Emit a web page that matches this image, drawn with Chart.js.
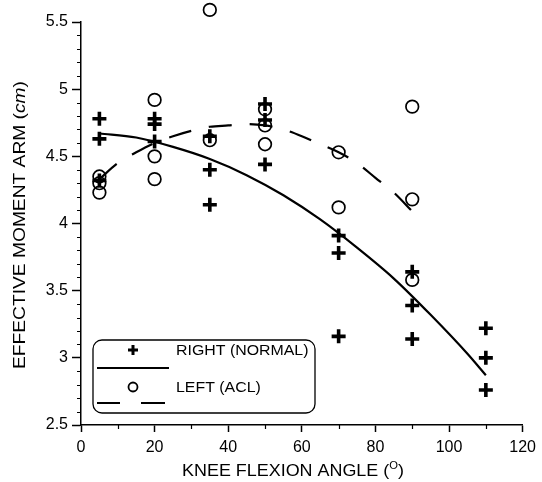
<!DOCTYPE html>
<html>
<head>
<meta charset="utf-8">
<script src="https://cdn.jsdelivr.net/npm/chart.js@4.4.1/dist/chart.umd.min.js"></script>
<style>
  html, body { margin: 0; padding: 0; background: #fff; }
  #wrap { width: 542px; height: 482px; position: relative; }
</style>
</head>
<body>
<div id="wrap"><canvas id="chart"></canvas></div>
<script>
// Measured effective moment arm (cm) by knee flexion angle (deg)
const rightAngles = [5, 5, 5, 20, 20, 20, 35, 35, 35, 50, 50, 50, 70, 70, 70, 90, 90, 90, 110, 110, 110];
const rightValues = [4.78, 4.63, 4.32, 4.78, 4.74, 4.61, 4.65, 4.40, 4.14, 4.89, 4.77, 4.44, 3.91, 3.78, 3.16, 3.64, 3.39, 3.14, 3.22, 3.00, 2.76];

const leftAngles = [5, 5, 5, 20, 20, 20, 35, 35, 50, 50, 50, 70, 70, 90, 90, 90];
const leftValues = [4.35, 4.30, 4.23, 4.92, 4.50, 4.33, 5.59, 4.62, 4.85, 4.73, 4.59, 4.53, 4.12, 4.87, 4.18, 3.58];

// fitted curves
const rightFitAngles = [5, 15, 25, 35, 45, 55, 65, 75, 85, 95, 105, 110];
const rightFitValues = [4.67, 4.64, 4.57, 4.48, 4.36, 4.21, 4.03, 3.82, 3.59, 3.32, 3.03, 2.87];

const leftFitAngles = [5, 10, 15, 20, 25, 30, 35, 40, 45, 50, 55, 60, 65, 70, 75, 80, 85, 90];
const leftFitValues = [4.33, 4.45, 4.53, 4.60, 4.65, 4.69, 4.72, 4.73, 4.74, 4.73, 4.70, 4.65, 4.59, 4.53, 4.45, 4.34, 4.23, 4.09];

const xTicks = [0, 20, 40, 60, 80, 100, 120];
const yTicks = [2.5, 3, 3.5, 4, 4.5, 5, 5.5];

const legendLabels = ['RIGHT (NORMAL)', 'LEFT (ACL)'];
const xTitle = 'KNEE FLEXION ANGLE (';
const xTitleSup = 'O';
const yTitle = 'EFFECTIVE MOMENT ARM (';
const yTitleUnit = 'cm';

const FONT = "'Liberation Sans', Arial, sans-serif";

function toPoints(xs, ys) {
    return xs.map((v, i) => ({ x: v, y: ys[i] }));
}

// draws text stretched horizontally, starting at x
function stretchText(ctx, text, x, y, sx) {
    ctx.save();
    ctx.translate(x, y);
    ctx.scale(sx, 1);
    ctx.fillText(text, 0, 0);
    ctx.restore();
    return ctx.measureText(text).width * sx;
}

const decorPlugin = {
    id: 'decor',
    afterDatasetsDraw(chart) {
        // points above the 5.5 limit (the 5.59 circle) are skipped by Chart.js, draw them anyway
        const area = chart.chartArea;
        const bigArea = { left: -1e4, top: -1e4, right: 1e4, bottom: 1e4 };
        chart.getSortedVisibleDatasetMetas().forEach(meta => {
            const ds = chart.data.datasets[meta.index];
            if (ds.showLine) return;
            meta.data.forEach(el => {
                if (el.y < area.top - 1 || el.y > area.bottom + 1) {
                    el.draw(chart.ctx, bigArea);
                }
            });
        });
    },
    afterDraw(chart) {
        const ctx = chart.ctx;
        const xs = chart.scales.x;
        const ys = chart.scales.y;
        const left = chart.chartArea.left;
        const bottom = chart.chartArea.bottom;
        ctx.save();
        ctx.strokeStyle = '#000';
        ctx.fillStyle = '#000';

        // minor ticks
        ctx.lineWidth = 1.2;
        ctx.beginPath();
        for (let k = 26; k < 55; k++) {
            if (k % 5 === 0) continue;
            const py = Math.round(ys.getPixelForValue(k / 10)) + 0.5;
            ctx.moveTo(left, py);
            ctx.lineTo(left - 4, py);
        }
        for (let k = 10; k < 120; k += 20) {
            const px = Math.round(xs.getPixelForValue(k)) + 0.5;
            ctx.moveTo(px, bottom);
            ctx.lineTo(px, bottom + 4);
        }
        ctx.stroke();

        // axis titles
        ctx.textBaseline = 'alphabetic';
        ctx.textAlign = 'left';
        // x title
        ctx.font = '16px ' + FONT;
        const sx = 1.12;
        const w1 = ctx.measureText(xTitle).width * sx;
        ctx.font = '10px ' + FONT;
        const w2 = ctx.measureText(xTitleSup).width * sx;
        ctx.font = '16px ' + FONT;
        const w3 = ctx.measureText(')').width * sx;
        let tx = 293 - (w1 + w2 + w3) / 2;
        const tb = 476;
        tx += stretchText(ctx, xTitle, tx, tb, sx);
        ctx.font = '10px ' + FONT;
        tx += stretchText(ctx, xTitleSup, tx, tb - 7, sx);
        ctx.font = '16px ' + FONT;
        stretchText(ctx, ')', tx, tb, sx);

        // y title, rotated
        ctx.save();
        ctx.translate(25, 225);
        ctx.rotate(-Math.PI / 2);
        const sy = 1.2;
        ctx.font = '16px ' + FONT;
        const a1 = ctx.measureText(yTitle).width * sy;
        ctx.font = 'italic 16px ' + FONT;
        const a2 = ctx.measureText(yTitleUnit).width * sy;
        ctx.font = '16px ' + FONT;
        const a3 = ctx.measureText(')').width * sy;
        let ty = -(a1 + a2 + a3) / 2;
        ty += stretchText(ctx, yTitle, ty, 0, sy);
        ctx.font = 'italic 16px ' + FONT;
        ty += stretchText(ctx, yTitleUnit, ty, 0, sy);
        ctx.font = '16px ' + FONT;
        stretchText(ctx, ')', ty, 0, sy);
        ctx.restore();

        // legend box
        const bx = 93, by = 340, bw = 222, bh = 73, r = 9;
        ctx.lineWidth = 1.3;
        ctx.beginPath();
        ctx.roundRect(bx, by, bw, bh, r);
        ctx.stroke();

        // plus marker
        ctx.lineWidth = 3;
        ctx.beginPath();
        ctx.moveTo(128, 350); ctx.lineTo(138, 350);
        ctx.moveTo(133, 345); ctx.lineTo(133, 355);
        ctx.stroke();
        // solid line
        ctx.lineWidth = 2.2;
        ctx.beginPath();
        ctx.moveTo(97, 368); ctx.lineTo(169, 368);
        ctx.stroke();
        // circle marker
        ctx.lineWidth = 1.8;
        ctx.beginPath();
        ctx.arc(133, 387, 4.5, 0, Math.PI * 2);
        ctx.stroke();
        // dashed line
        ctx.lineWidth = 2.2;
        ctx.beginPath();
        ctx.moveTo(97, 403); ctx.lineTo(120, 403);
        ctx.moveTo(141, 403); ctx.lineTo(165, 403);
        ctx.stroke();

        ctx.font = '15px ' + FONT;
        ctx.textBaseline = 'middle';
        stretchText(ctx, legendLabels[0], 176, 351, 1.06);
        stretchText(ctx, legendLabels[1], 176, 388, 1.06);
        ctx.restore();
    }
};

const ctx = document.getElementById('chart').getContext('2d');
const chart = new Chart(ctx, {
    type: 'scatter',
    data: {
        datasets: [
            {
                label: legendLabels[0],
                data: toPoints(rightAngles, rightValues),
                pointStyle: 'cross',
                pointRadius: 7,
                borderWidth: 3.6,
                borderColor: '#000',
                backgroundColor: '#000',
                clip: false
            },
            {
                label: legendLabels[1],
                data: toPoints(leftAngles, leftValues),
                pointStyle: 'circle',
                pointRadius: 6.3,
                borderWidth: 1.7,
                borderColor: '#000',
                backgroundColor: 'rgba(255,255,255,0)',
                clip: false
            },
            {
                label: 'right fit',
                data: toPoints(rightFitAngles, rightFitValues),
                showLine: true,
                pointRadius: 0,
                borderColor: '#000',
                borderWidth: 2.2,
                cubicInterpolationMode: 'monotone'
            },
            {
                label: 'left fit',
                data: toPoints(leftFitAngles, leftFitValues),
                showLine: true,
                pointRadius: 0,
                borderColor: '#000',
                borderWidth: 2.2,
                borderDash: [23, 18],
                cubicInterpolationMode: 'monotone'
            }
        ]
    },
    options: {
        responsive: true,
        maintainAspectRatio: false,
        animation: false,
        events: [],
        layout: {
            padding: { top: 22, right: 19, left: 40, bottom: 0 }
        },
        plugins: {
            legend: { display: false },
            tooltip: { enabled: false }
        },
        scales: {
            x: {
                type: 'linear',
                min: 0,
                max: 120,
                afterBuildTicks: s => { s.ticks = xTicks.map(v => ({ value: v })); },
                afterFit: s => { s.height = 57; },
                border: { display: true, color: '#000', width: 1.5 },
                grid: {
                    drawOnChartArea: false,
                    drawTicks: true,
                    tickLength: 7,
                    tickWidth: 1.5,
                    tickColor: '#000'
                },
                ticks: {
                    color: '#000',
                    padding: 6,
                    maxRotation: 0,
                    font: { family: FONT, size: 16 }
                }
            },
            y: {
                type: 'linear',
                min: 2.5,
                max: 5.5,
                afterBuildTicks: s => { s.ticks = yTicks.map(v => ({ value: v })); },
                afterFit: s => { s.width = 41; },
                border: { display: true, color: '#000', width: 1.5 },
                grid: {
                    drawOnChartArea: false,
                    drawTicks: true,
                    tickLength: 9,
                    tickWidth: 1.5,
                    tickColor: '#000'
                },
                ticks: {
                    color: '#000',
                    padding: 4,
                    font: { family: FONT, size: 16 },
                    callback: v => String(v)
                }
            }
        }
    },
    plugins: [decorPlugin]
});
</script>
</body>
</html>
